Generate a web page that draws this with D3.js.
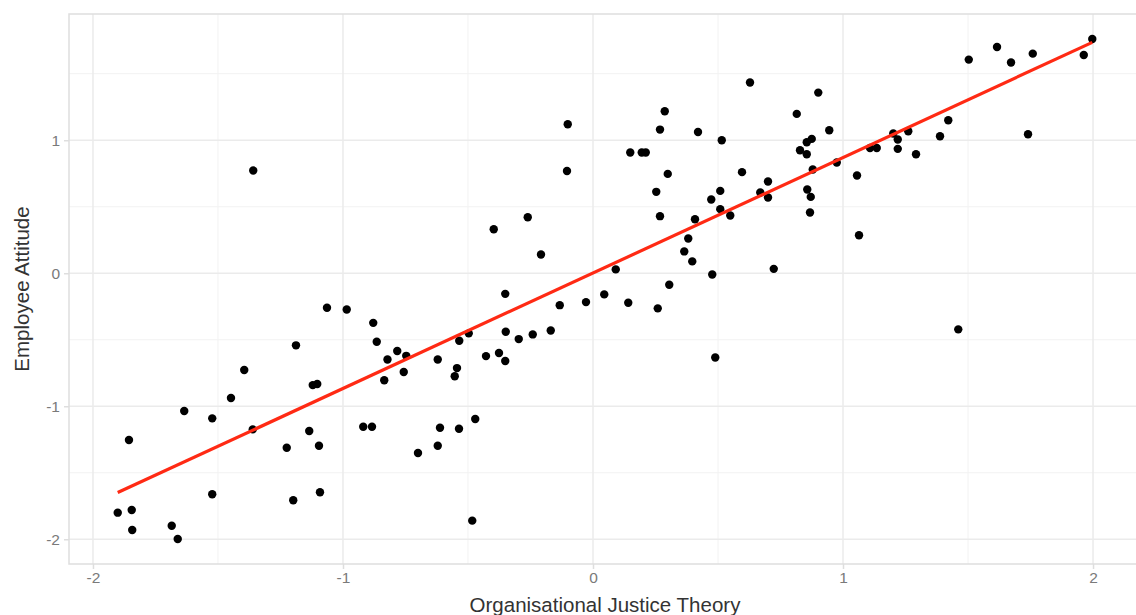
<!DOCTYPE html>
<html>
<head>
<meta charset="utf-8">
<script src="https://cdn.jsdelivr.net/npm/d3@7"></script>
<style>
  body { margin: 0; background: #fff; }
  svg { display: block; font-family: "Liberation Sans", Arial, sans-serif; }
</style>
</head>
<body>
<svg id="chart" width="1136" height="615"></svg>
<script>
// values
const justice = [
  -1.901, -1.845, -1.843, -1.856, -1.685, -1.661, -1.635, -1.523, -1.523, -1.448,
  -1.395, -1.361, -1.359, -1.225, -1.199, -1.188, -1.135, -1.121, -1.103, -1.096,
  -1.092, -1.064, -0.985, -0.919, -0.884, -0.879, -0.865, -0.835, -0.822, -0.783,
  -0.757, -0.747, -0.700, -0.621, -0.621, -0.612, -0.553, -0.544, -0.536, -0.535,
  -0.497, -0.483, -0.471, -0.428, -0.397, -0.376, -0.351, -0.351, -0.349, -0.297,
  -0.261, -0.241, -0.208, -0.169, -0.133, -0.104, -0.101, -0.028, 0.045, 0.091,
  0.141, 0.149, 0.195, 0.211, 0.253, 0.259, 0.268, 0.268, 0.287, 0.299,
  0.305, 0.365, 0.381, 0.397, 0.408, 0.420, 0.473, 0.477, 0.489, 0.509,
  0.509, 0.515, 0.549, 0.596, 0.628, 0.669, 0.700, 0.700, 0.723, 0.815,
  0.828, 0.855, 0.855, 0.857, 0.868, 0.871, 0.875, 0.879, 0.901, 0.945,
  0.975, 1.056, 1.064, 1.108, 1.135, 1.201, 1.219, 1.219, 1.261, 1.292,
  1.388, 1.421, 1.461, 1.503, 1.616, 1.672, 1.740, 1.759, 1.963, 1.997
];
const attitude = [
  -1.800, -1.780, -1.930, -1.254, -1.898, -1.998, -1.036, -1.091, -1.662, -0.938,
  -0.728, -1.174, 0.772, -1.312, -1.707, -0.542, -1.186, -0.841, -0.833, -1.297,
  -1.647, -0.260, -0.273, -1.154, -1.154, -0.373, -0.515, -0.805, -0.648, -0.585,
  -0.743, -0.621, -1.352, -0.648, -1.297, -1.162, -0.775, -0.713, -1.169, -0.508,
  -0.452, -1.860, -1.096, -0.623, 0.331, -0.600, -0.660, -0.155, -0.440, -0.495,
  0.421, -0.460, 0.141, -0.430, -0.240, 0.769, 1.120, -0.217, -0.159, 0.029,
  -0.222, 0.908, 0.908, 0.908, 0.612, -0.264, 1.080, 0.429, 1.218, 0.747,
  -0.087, 0.164, 0.261, 0.089, 0.406, 1.062, 0.554, -0.009, -0.633, 0.619,
  0.482, 1.000, 0.434, 0.760, 1.434, 0.607, 0.690, 0.569, 0.033, 1.198,
  0.925, 0.985, 0.895, 0.630, 0.457, 0.574, 1.010, 0.780, 1.358, 1.075,
  0.832, 0.735, 0.286, 0.942, 0.942, 1.050, 1.005, 0.935, 1.068, 0.895,
  1.030, 1.150, -0.422, 1.606, 1.701, 1.584, 1.045, 1.651, 1.641, 1.761
];
const xTicks = [-2, -1, 0, 1, 2];
const yTicks = [-2, -1, 0, 1];
const xMinor = [-1.5, -0.5, 0.5, 1.5];
const yMinor = [-1.5, -0.5, 0.5, 1.5];

const svg = d3.select("#chart");
const panel = {left: 69, right: 1141, top: 14, bottom: 564};

// ggplot style 5% expansion
function expand(ext) {
	let pad = (ext[1] - ext[0]) * 0.05;
	return [ext[0] - pad, ext[1] + pad];
}

let xScale = d3.scaleLinear().domain(expand(d3.extent(justice))).range([panel.left, panel.right]);
let yScale = d3.scaleLinear().domain(expand(d3.extent(attitude))).range([panel.bottom, panel.top]);

// least squares fit, like geom_smooth(method = "lm")
let mx = d3.mean(justice), my = d3.mean(attitude);
let sxy = 0, sxx = 0;
for (let i = 0; i < justice.length; i++) {
	sxy += (justice[i] - mx) * (attitude[i] - my);
	sxx += (justice[i] - mx) * (justice[i] - mx);
}
let slope = sxy / sxx;
let icpt = my - slope * mx;

let grid = svg.append("g");
grid.selectAll(".minX").data(xMinor).enter().append("line")
	.attr("x1", d => xScale(d)).attr("x2", d => xScale(d))
	.attr("y1", panel.top).attr("y2", panel.bottom)
	.attr("stroke", "#f2f2f2").attr("stroke-width", 1);
grid.selectAll(".minY").data(yMinor).enter().append("line")
	.attr("x1", panel.left).attr("x2", panel.right)
	.attr("y1", d => yScale(d)).attr("y2", d => yScale(d))
	.attr("stroke", "#f2f2f2").attr("stroke-width", 1);
grid.selectAll(".majX").data(xTicks).enter().append("line")
	.attr("x1", d => xScale(d)).attr("x2", d => xScale(d))
	.attr("y1", panel.top).attr("y2", panel.bottom)
	.attr("stroke", "#ebebeb").attr("stroke-width", 1.5);
grid.selectAll(".majY").data(yTicks).enter().append("line")
	.attr("x1", panel.left).attr("x2", panel.right)
	.attr("y1", d => yScale(d)).attr("y2", d => yScale(d))
	.attr("stroke", "#ebebeb").attr("stroke-width", 1.5);

// panel border
svg.append("rect")
	.attr("x", panel.left).attr("y", panel.top)
	.attr("width", panel.right - panel.left).attr("height", panel.bottom - panel.top)
	.attr("fill", "none").attr("stroke", "#dedede").attr("stroke-width", 1.5);

// axes
let xAxis = d3.axisBottom(xScale).tickValues(xTicks).tickSize(5).tickPadding(3);
let gx = svg.append("g").attr("transform", "translate(0," + panel.bottom + ")").call(xAxis);
let yAxis = d3.axisLeft(yScale).tickValues(yTicks).tickSize(5).tickPadding(4);
let gy = svg.append("g").attr("transform", "translate(" + panel.left + ",0)").call(yAxis);
for (let g of [gx, gy]) {
	g.select(".domain").remove();
	g.selectAll("line").attr("stroke", "#dedede").attr("stroke-width", 1.5);
	g.selectAll("text").attr("fill", "#7a7a7a").style("font-size", "15.5px")
		.style("font-family", "'Liberation Sans', Arial, sans-serif")
		.text(d => d < 0 ? "-" + Math.abs(d) : d);
}

// points
svg.append("g").selectAll("circle")
	.data(justice.map((d, i) => [d, attitude[i]]))
	.enter().append("circle")
	.attr("cx", d => xScale(d[0]))
	.attr("cy", d => yScale(d[1]))
	.attr("r", 4.2)
	.attr("fill", "#000");

// fit line
let x0 = d3.min(justice), x1 = d3.max(justice);
svg.append("line")
	.attr("x1", xScale(x0)).attr("y1", yScale(icpt + slope * x0))
	.attr("x2", xScale(x1)).attr("y2", yScale(icpt + slope * x1))
	.attr("stroke", "#ff2a14").attr("stroke-width", 3.2);

// titles
svg.append("text")
	.attr("x", (panel.left + panel.right) / 2).attr("y", 612)
	.attr("text-anchor", "middle")
	.attr("fill", "#333").style("font-size", "20.5px")
	.text("Organisational Justice Theory");
svg.append("text")
	.attr("transform", "translate(29," + ((panel.top + panel.bottom) / 2) + ") rotate(-90)")
	.attr("text-anchor", "middle")
	.attr("fill", "#333").style("font-size", "20.5px")
	.text("Employee Attitude");
</script>
</body>
</html>
